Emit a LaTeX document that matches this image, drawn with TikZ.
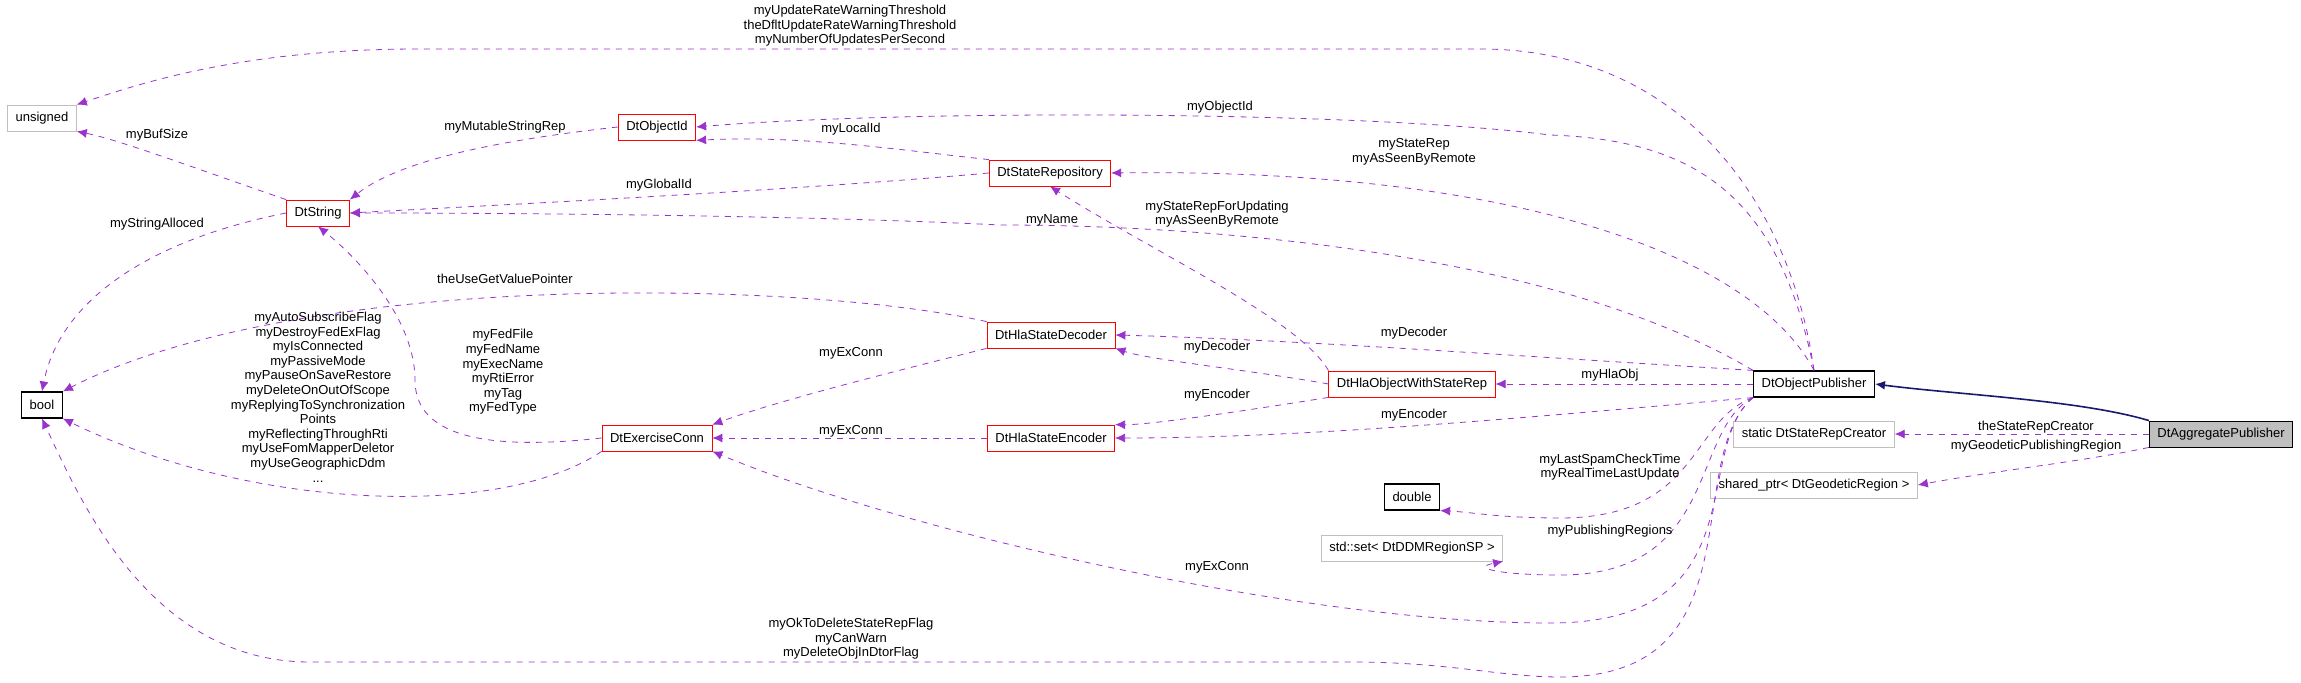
\documentclass[tikz,border=0pt]{standalone}
\usepackage{fontspec}
\setmainfont{Liberation Sans}
\usetikzlibrary{arrows.meta}
\definecolor{member}{HTML}{9A32CD}
\definecolor{inherit}{HTML}{191970}
\tikzset{
  cls/.style={draw,rectangle,minimum height=13pt,inner xsep=4pt,inner ysep=1pt,font=\fontsize{6.5}{7.3}\selectfont},
  doc/.style={cls,draw=red},
  nodoc/.style={cls,draw=black!25},
  plain/.style={cls,draw=black,line width=0.6pt},
  lbl/.style={font=\fontsize{6.5}{7.3}\selectfont,align=center,inner sep=0pt},
  use/.style={draw=member,dashed,-{Latex[length=5pt,width=4.5pt]},fill=none}
}
\begin{document}
\begin{tikzpicture}[x=0.5pt,y=-0.5pt]
  \useasboundingbox (0,0) rectangle (2301,683);

  % classes
  \node[nodoc] (unsigned) at (42,118) {unsigned};
  \node[plain] (bool) at (42,405) {bool};
  \node[doc] (str) at (318,213) {DtString};
  \node[doc] (oid) at (657,127) {DtObjectId};
  \node[doc] (exconn) at (657,438) {DtExerciseConn};
  \node[doc] (rep) at (1050,173) {DtStateRepository};
  \node[doc] (dec) at (1051,335) {DtHlaStateDecoder};
  \node[doc] (enc) at (1051,438) {DtHlaStateEncoder};
  \node[doc] (hlaobj) at (1412,384) {DtHlaObjectWithStateRep};
  \node[plain] (pub) at (1814,384) {DtObjectPublisher};
  \node[cls,fill=black!25] (agg) at (2221,434) {DtAggregatePublisher};
  \node[nodoc] (creator) at (1814,434) {static DtStateRepCreator};
  \node[nodoc] (geo) at (1814,485) {shared\_ptr< DtGeodeticRegion >};
  \node[plain] (dbl) at (1412,497) {double};
  \node[nodoc] (regset) at (1412,548) {std::set< DtDDMRegionSP >};

  % inheritance
  \draw[inherit,line width=0.8pt,-{Latex[length=5pt,width=4.5pt]}] (agg.north west) .. controls (2080,400) and (1960,395) .. (pub.east);

  % members
  \draw[use] (pub.north) .. controls (1790,200) and (1680,49) .. (1480,49) -- (420,49) .. controls (250,49) and (150,80) .. (unsigned.north east);
  \node[lbl] at (850,26) {myUpdateRateWarningThreshold\\theDfltUpdateRateWarningThreshold\\myNumberOfUpdatesPerSecond};
  \draw[use] (pub.north) .. controls (1780,200) and (1700,140) .. (1550,135) .. controls (1350,110) and (900,110) .. (oid.east);
  \node[lbl] at (1220,107) {myObjectId};
  \draw[use] (rep.north west) .. controls (900,150) and (800,135) .. (oid.south east);
  \node[lbl] at (851,129) {myLocalId};
  \draw[use] (oid.west) .. controls (500,140) and (400,160) .. (str.north east);
  \node[lbl] at (505,127) {myMutableStringRep};
  \draw[use] (rep.west) .. controls (800,190) and (500,205) .. (str.east);
  \node[lbl] at (659,185) {myGlobalId};
  \draw[use] (pub.north west) .. controls (1550,250) and (1200,225) .. (1000,225) .. controls (800,215) and (500,213) .. (str.east);
  \node[lbl] at (1052,220) {myName};
  \draw[use] (str.north west) .. controls (200,170) and (120,140) .. (unsigned.south east);
  \node[lbl] at (157,135) {myBufSize};
  \draw[use] (str.west) .. controls (150,240) and (60,300) .. (bool.north);
  \node[lbl] at (157,224) {myStringAlloced};
  \draw[use] (pub.north) .. controls (1750,250) and (1500,168) .. (rep.east);
  \node[lbl] at (1414,152) {myStateRep\\myAsSeenByRemote};
  \draw[use] (hlaobj.north west) .. controls (1300,320) and (1150,250) .. (rep.south);
  \node[lbl] at (1217,214) {myStateRepForUpdating\\myAsSeenByRemote};
  \draw[use] (dec.north west) .. controls (800,280) and (300,270) .. (bool.north east);
  \node[lbl] at (505,279) {theUseGetValuePointer};
  \draw[use] (exconn.south west) .. controls (500,520) and (250,510) .. (bool.south east);
  \node[lbl] at (318,397) {myAutoSubscribeFlag\\myDestroyFedExFlag\\myIsConnected\\myPassiveMode\\myPauseOnSaveRestore\\myDeleteOnOutOfScope\\myReplyingToSynchronization\\Points\\myReflectingThroughRti\\myUseFomMapperDeletor\\myUseGeographicDdm\\...};
  \draw[use] (exconn.west) .. controls (450,455) and (415,420) .. (415,380) .. controls (415,320) and (360,260) .. (str.south);
  \node[lbl] at (503,372) {myFedFile\\myFedName\\myExecName\\myRtiError\\myTag\\myFedType};
  \draw[use] (dec.south west) .. controls (900,370) and (780,400) .. (exconn.north east);
  \node[lbl] at (851,353) {myExConn};
  \draw[use] (enc.west) -- (exconn.east);
  \node[lbl] at (851,431) {myExConn};
  \draw[use] (pub.south west) .. controls (1690,450) and (1760,623) .. (1550,623) .. controls (1300,623) and (900,530) .. (exconn.south east);
  \node[lbl] at (1217,567) {myExConn};
  \draw[use] (pub.south west) .. controls (1680,460) and (1760,677) .. (1560,677) .. controls (1500,677) and (1450,662) .. (1350,662) -- (310,662) .. controls (150,662) and (80,500) .. (bool.south);
  \node[lbl] at (851,639) {myOkToDeleteStateRepFlag\\myCanWarn\\myDeleteObjInDtorFlag};
  \draw[use] (pub.north west) .. controls (1500,355) and (1300,340) .. (dec.east);
  \node[lbl] at (1414,333) {myDecoder};
  \draw[use] (hlaobj.west) .. controls (1250,370) and (1150,360) .. (dec.south east);
  \node[lbl] at (1217,347) {myDecoder};
  \draw[use] (pub.west) -- (hlaobj.east);
  \node[lbl] at (1610,375) {myHlaObj};
  \draw[use] (hlaobj.south west) .. controls (1250,410) and (1150,425) .. (enc.north east);
  \node[lbl] at (1217,395) {myEncoder};
  \draw[use] (pub.south west) .. controls (1500,420) and (1300,438) .. (enc.east);
  \node[lbl] at (1414,415) {myEncoder};
  \draw[use] (pub.south west) .. controls (1690,420) and (1700,518) .. (1560,518) .. controls (1500,518) and (1470,512) .. (dbl.south east);
  \node[lbl] at (1610,467) {myLastSpamCheckTime\\myRealTimeLastUpdate};
  \draw[use] (pub.south west) .. controls (1690,430) and (1720,575) .. (1560,575) .. controls (1500,575) and (1470,568) .. (regset.south east);
  \node[lbl] at (1610,531) {myPublishingRegions};
  \draw[use] (agg.west) -- (creator.east);
  \node[lbl] at (2036,427) {theStateRepCreator};
  \draw[use] (agg.south west) .. controls (2080,462) and (2000,470) .. (geo.east);
  \node[lbl] at (2036,446) {myGeodeticPublishingRegion};
\end{tikzpicture}
\end{document}
